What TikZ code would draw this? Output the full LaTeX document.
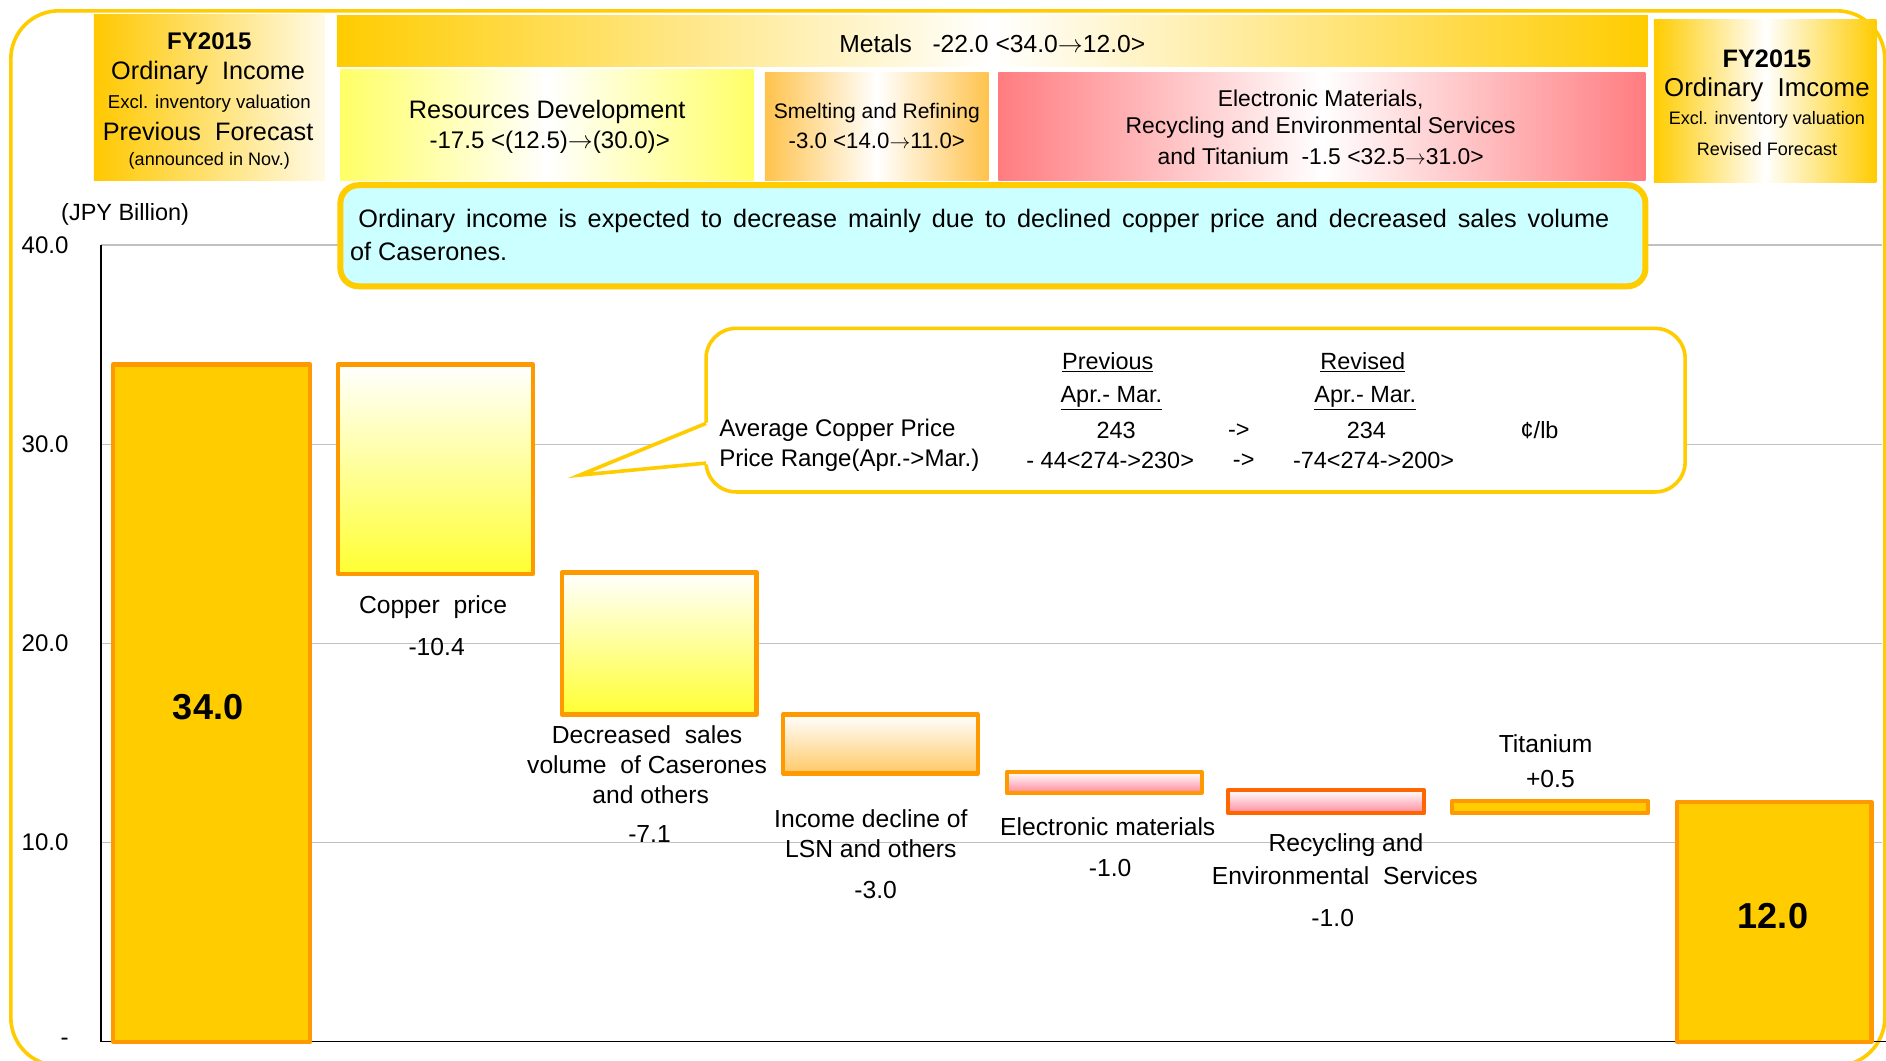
\documentclass[tikz,border=0pt]{standalone}
\usepackage{fontspec}
\setmainfont{Liberation Sans}
\definecolor{gold}{HTML}{FFCC00}
\definecolor{barorange}{HTML}{FF9900}
\definecolor{redorange}{HTML}{FF6600}
\definecolor{gridgray}{HTML}{C0C0C0}
\definecolor{cyanfill}{HTML}{CCFFFF}
\definecolor{pinkred}{HTML}{FF7C80}
\definecolor{lightorange}{HTML}{FFC34D}
\definecolor{yel}{HTML}{FFFF33}
\definecolor{paleyel}{HTML}{FFFF66}
\definecolor{lsnorange}{HTML}{FFC966}
\definecolor{pinkbar}{HTML}{FF8A9C}
\newcommand{\fsz}[1]{\fontsize{#1pt}{#1pt}\selectfont}
\newcommand{\arr}{\ensuremath{\rightarrow}}
\tikzset{
  txt/.style={inner sep=0pt, outer sep=0pt, font=\fsz{20}},
  bar/.style={draw=barorange, line width=3.5pt, line join=round},
  gridline/.style={draw=gridgray, line width=1.5pt},
  hshade/.style={left color=#1, right color=#1, middle color=white}
}
\begin{document}
\begin{tikzpicture}[x=1pt,y=-1pt]
\useasboundingbox (0,0) rectangle (1568,882);
\fill[white] (0,0) rectangle (1568,882);
% outer frame
\draw[gold, line width=3pt, rounded corners=40pt] (9,9) rectangle (1567,886);

% gridlines
\foreach \yy in {204,369.5,535,700.5} \draw[gridline] (84,\yy) -- (1565,\yy);
% axes
\draw[black, line width=1.2pt] (84,204) -- (84,866) -- (1568,866);

% header boxes
\shade[left color=gold!95!orange, right color=gold!10] (78,12) rectangle (270,150);
\shade[hshade=gold] (280,13) rectangle (1370,55);
\shade[hshade=paleyel] (283,58) rectangle (627,150);
\shade[hshade=lightorange] (636,60) rectangle (822,150);
\shade[hshade=pinkred] (830,60) rectangle (1368,150);
\shade[hshade=gold] (1375,16) rectangle (1560,152);

% left header text
\node[txt, font=\fsz{20}\bfseries] (lh1) at (174,34) {FY2015};
\node[txt, font=\fsz{21}] (lh2) at (173,61) {Ordinary\ \ Income};
\node[txt, font=\fsz{15.5}] (lh3) at (174,86) {Excl. inventory valuation};
\node[txt, font=\fsz{21}] (lh4) at (173,109) {Previous\ \ Forecast};
\node[txt, font=\fsz{15}] (lh5) at (174,134) {(announced\ in\ Nov.)};

% segment headers
\node[txt, font=\fsz{20.5}] (metals) at (825,36) {Metals\ \ \ -22.0 <34.0\arr12.0>};
\node[txt, font=\fsz{21}] (res1) at (455,93) {Resources\ Development};
\node[txt, font=\fsz{20}] (res2) at (457,118) {-17.5 <(12.5)\arr(30.0)>};
\node[txt, font=\fsz{17.5}] (sm1) at (729,94) {Smelting and Refining};
\node[txt, font=\fsz{18.5}] (sm2) at (729,117) {-3.0 <14.0\arr11.0>};
\node[txt, font=\fsz{19}] (el1) at (1098,83) {Electronic Materials,};
\node[txt, font=\fsz{19}] (el2) at (1098,106) {Recycling and Environmental Services};
\node[txt, font=\fsz{19}] (el3) at (1098,130) {and Titanium\ \ -1.5 <32.5\arr31.0>};

% right header text
\node[txt, font=\fsz{21}\bfseries] (rh1) at (1469,49) {FY2015};
\node[txt, font=\fsz{21.5}] (rh2) at (1469,75) {Ordinary\ \ Imcome};
\node[txt, font=\fsz{15}] (rh3) at (1469,100) {Excl. inventory valuation};
\node[txt, font=\fsz{15}] (rh4) at (1469,124) {Revised Forecast};

% message box
\draw[gold, line width=5pt, fill=cyanfill, rounded corners=15pt] (283,154) rectangle (1368,238);
\node[txt, font=\fsz{21}, anchor=west] (msg1) at (298,184) {\makebox[1040pt][s]{Ordinary income is expected to decrease mainly due to declined copper price and decreased sales volume}};
\node[txt, font=\fsz{21}, anchor=west] (msg2) at (291,209) {of Caserones.};

% axis labels
\node[txt, font=\fsz{19.5}] (unit) at (104,178) {(JPY Billion)};
\node[txt, font=\fsz{20}, anchor=east] (t40) at (57,204) {40.0};
\node[txt, font=\fsz{20}, anchor=east] (t30) at (57,369) {30.0};
\node[txt, font=\fsz{20}, anchor=east] (t20) at (57,535) {20.0};
\node[txt, font=\fsz{20}, anchor=east] (t10) at (57,700) {10.0};
\node[txt, font=\fsz{20}, anchor=east] (t0) at (57,866) {-};

% bars
\draw[bar, fill=gold] (94,303) rectangle (258,866);
\draw[bar, top color=white, bottom color=yel] (281,303) rectangle (443,477);
\draw[bar, top color=white, bottom color=yel] (467,476) rectangle (629,594);
\draw[bar, top color=white, bottom color=lsnorange] (651,594) rectangle (813,643);
\draw[bar, top color=white, bottom color=pinkbar] (837,642) rectangle (999,659);
\draw[bar, draw=redorange, top color=white, bottom color=pinkbar] (1021,657) rectangle (1184,676);
\draw[bar, fill=gold] (1207,666) rectangle (1370,676);
\draw[bar, fill=gold] (1394,667) rectangle (1556,866);

% bar labels
\node[txt, font=\fsz{30}\bfseries] (v34) at (173,588) {34.0};
\node[txt, font=\fsz{30}\bfseries] (v12) at (1474,762) {12.0};
\node[txt, font=\fsz{20.5}] (cu1) at (360,505) {Copper\ \ price};
\node[txt, font=\fsz{20.5}] (cu2) at (363,538) {-10.4};
\node[txt, font=\fsz{20.5}] (ds1) at (538,611) {Decreased\ \ sales};
\node[txt, font=\fsz{20.5}] (ds2) at (538,636) {volume\ \ of Caserones};
\node[txt, font=\fsz{20.5}] (ds3) at (541,661) {and others};
\node[txt, font=\fsz{20.5}] (ds4) at (540,693) {-7.1};
\node[txt, font=\fsz{20.5}] (ls1) at (724,681) {Income decline of};
\node[txt, font=\fsz{20.5}] (ls2) at (724,706) {LSN and others};
\node[txt, font=\fsz{20.5}] (ls3) at (728,740) {-3.0};
\node[txt, font=\fsz{20.5}] (em1) at (921,687) {Electronic materials};
\node[txt, font=\fsz{20.5}] (em2) at (923,722) {-1.0};
\node[txt, font=\fsz{20.5}] (rc1) at (1119,703) {Recycling and};
\node[txt, font=\fsz{20.5}] (rc2) at (1118,728) {Environmental\ \ Services};
\node[txt, font=\fsz{20.5}] (rc3) at (1108,763) {-1.0};
\node[txt, font=\fsz{20.5}] (ti1) at (1285,618) {Titanium};
\node[txt, font=\fsz{20.5}] (ti2) at (1289,648) {+0.5};

% callout
\draw[gold, line width=3pt, fill=white, rounded corners=25pt] (587,273) rectangle (1401,409);
\fill[white] (589,351) -- (482,395) -- (589,386) -- cycle;
\draw[gold, line width=3pt, line join=miter] (587,352) -- (482,395) -- (587,385);
\node[txt, font=\fsz{19.5}] (cpPrev) at (921,301) {\underline{Previous}};
\node[txt, font=\fsz{19.5}] (cpRev) at (1133,301) {\underline{Revised}};
\node[txt, font=\fsz{19.5}] (cpAM1) at (924,331) {\underline{Apr.- Mar.}};
\node[txt, font=\fsz{19.5}] (cpAM2) at (1135,331) {\underline{Apr.- Mar.}};
\node[txt, font=\fsz{20}, anchor=west] (cpAvg) at (598,358) {Average Copper Price};
\node[txt, font=\fsz{19.5}] (cp243) at (928,358) {243};
\node[txt, font=\fsz{19.5}] (cpar1) at (1030,358) {->};
\node[txt, font=\fsz{19.5}] (cp234) at (1136,358) {234};
\node[txt, font=\fsz{19.5}] (cpunit) at (1280,358) {¢/lb};
\node[txt, font=\fsz{20}, anchor=west] (cpRange) at (598,383) {Price Range(Apr.->Mar.)};
\node[txt, font=\fsz{19.5}] (cpr1) at (923,383) {- 44<274->230>};
\node[txt, font=\fsz{19.5}] (cpar2) at (1034,383) {->};
\node[txt, font=\fsz{19.5}] (cpr2) at (1142,383) {-74<274->200>};
\end{tikzpicture}
\end{document}
